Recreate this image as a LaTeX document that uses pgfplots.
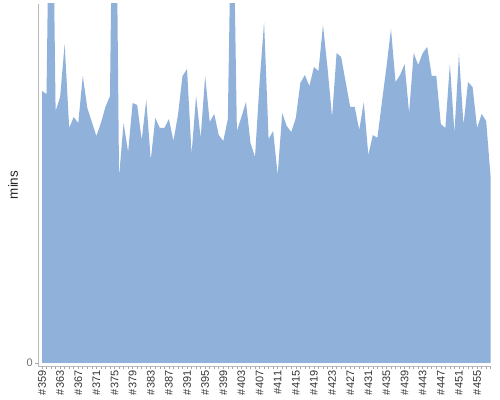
\documentclass[border=0pt]{standalone}
\usepackage{fontspec}
\setmainfont{Liberation Sans}
\usepackage{pgfplots}
\usepackage{pgfplotstable}
\pgfplotsset{compat=1.18}
\definecolor{areablue}{RGB}{143,177,218}
\pgfplotstableread{
x y
0 0
0 272
1 269
2 620
3 252
4 266
5 319
6 235
7 246
8 240
9 287
10 255
11 241
12 227
13 240
14 256
15 267
16 659
17 186
18 240
19 211
20 260
21 258
22 223
23 263
24 203
25 245
26 235
27 235
28 244
29 222
30 248
31 287
32 294
33 209
34 267
35 225
36 287
37 241
38 249
39 228
40 222
41 244
42 520
43 232
44 246
45 261
46 220
47 206
48 280
49 341
50 224
51 232
52 188
53 250
54 237
55 231
56 245
57 280
58 288
59 277
60 296
61 292
62 338
63 295
64 246
65 310
66 306
67 281
68 256
69 256
70 233
71 261
72 208
73 228
74 225
75 261
76 296
77 334
78 281
79 288
80 299
81 250
82 310
83 298
84 310
85 316
86 287
87 287
88 239
89 235
90 299
91 230
92 309
93 238
94 281
95 276
96 235
97 249
98 242
99 185
99 0
}\mins
\begin{document}
\begin{tikzpicture}
\path[use as bounding box] (-38bp,-34bp) rectangle (462bp,366bp);
\begin{axis}[
  at={(0,0)}, anchor=south west,
  scale only axis, width=452.7bp, height=362bp,
  xmin=-0.883, xmax=99, ymin=-3, ymax=359,
  axis x line*=bottom, axis y line*=left,
  axis line style={draw=black!28, line width=0.8bp},
  xtick={0,4,...,96},
  xticklabels={\#359,\#363,\#367,\#371,\#375,\#379,\#383,\#387,\#391,\#395,\#399,\#403,\#407,\#411,\#415,\#419,\#423,\#427,\#431,\#435,\#439,\#443,\#447,\#451,\#455},
  minor xtick={0,...,99},
  ytick={0}, yticklabels={0},
  tick align=outside,
  major tick length=3bp, minor tick length=3bp,
  every tick/.style={draw=black!35, line width=0.6bp},
  x tick label style={rotate=90, anchor=east, font=\fontsize{11}{12}\selectfont, text=black!80, inner sep=1.5bp},
  y tick label style={font=\fontsize{11}{12}\selectfont, text=black!55, inner sep=2bp},
  ylabel={mins},
  ylabel style={at={(axis description cs:-0.0442,0.5)}, anchor=base, font=\fontsize{13.5}{14}\selectfont, text=black!85},
  clip=true,
]
\addplot[fill=areablue, draw=none] table[x=x, y=y] {\mins} -- cycle;
\end{axis}
\end{tikzpicture}
\end{document}
